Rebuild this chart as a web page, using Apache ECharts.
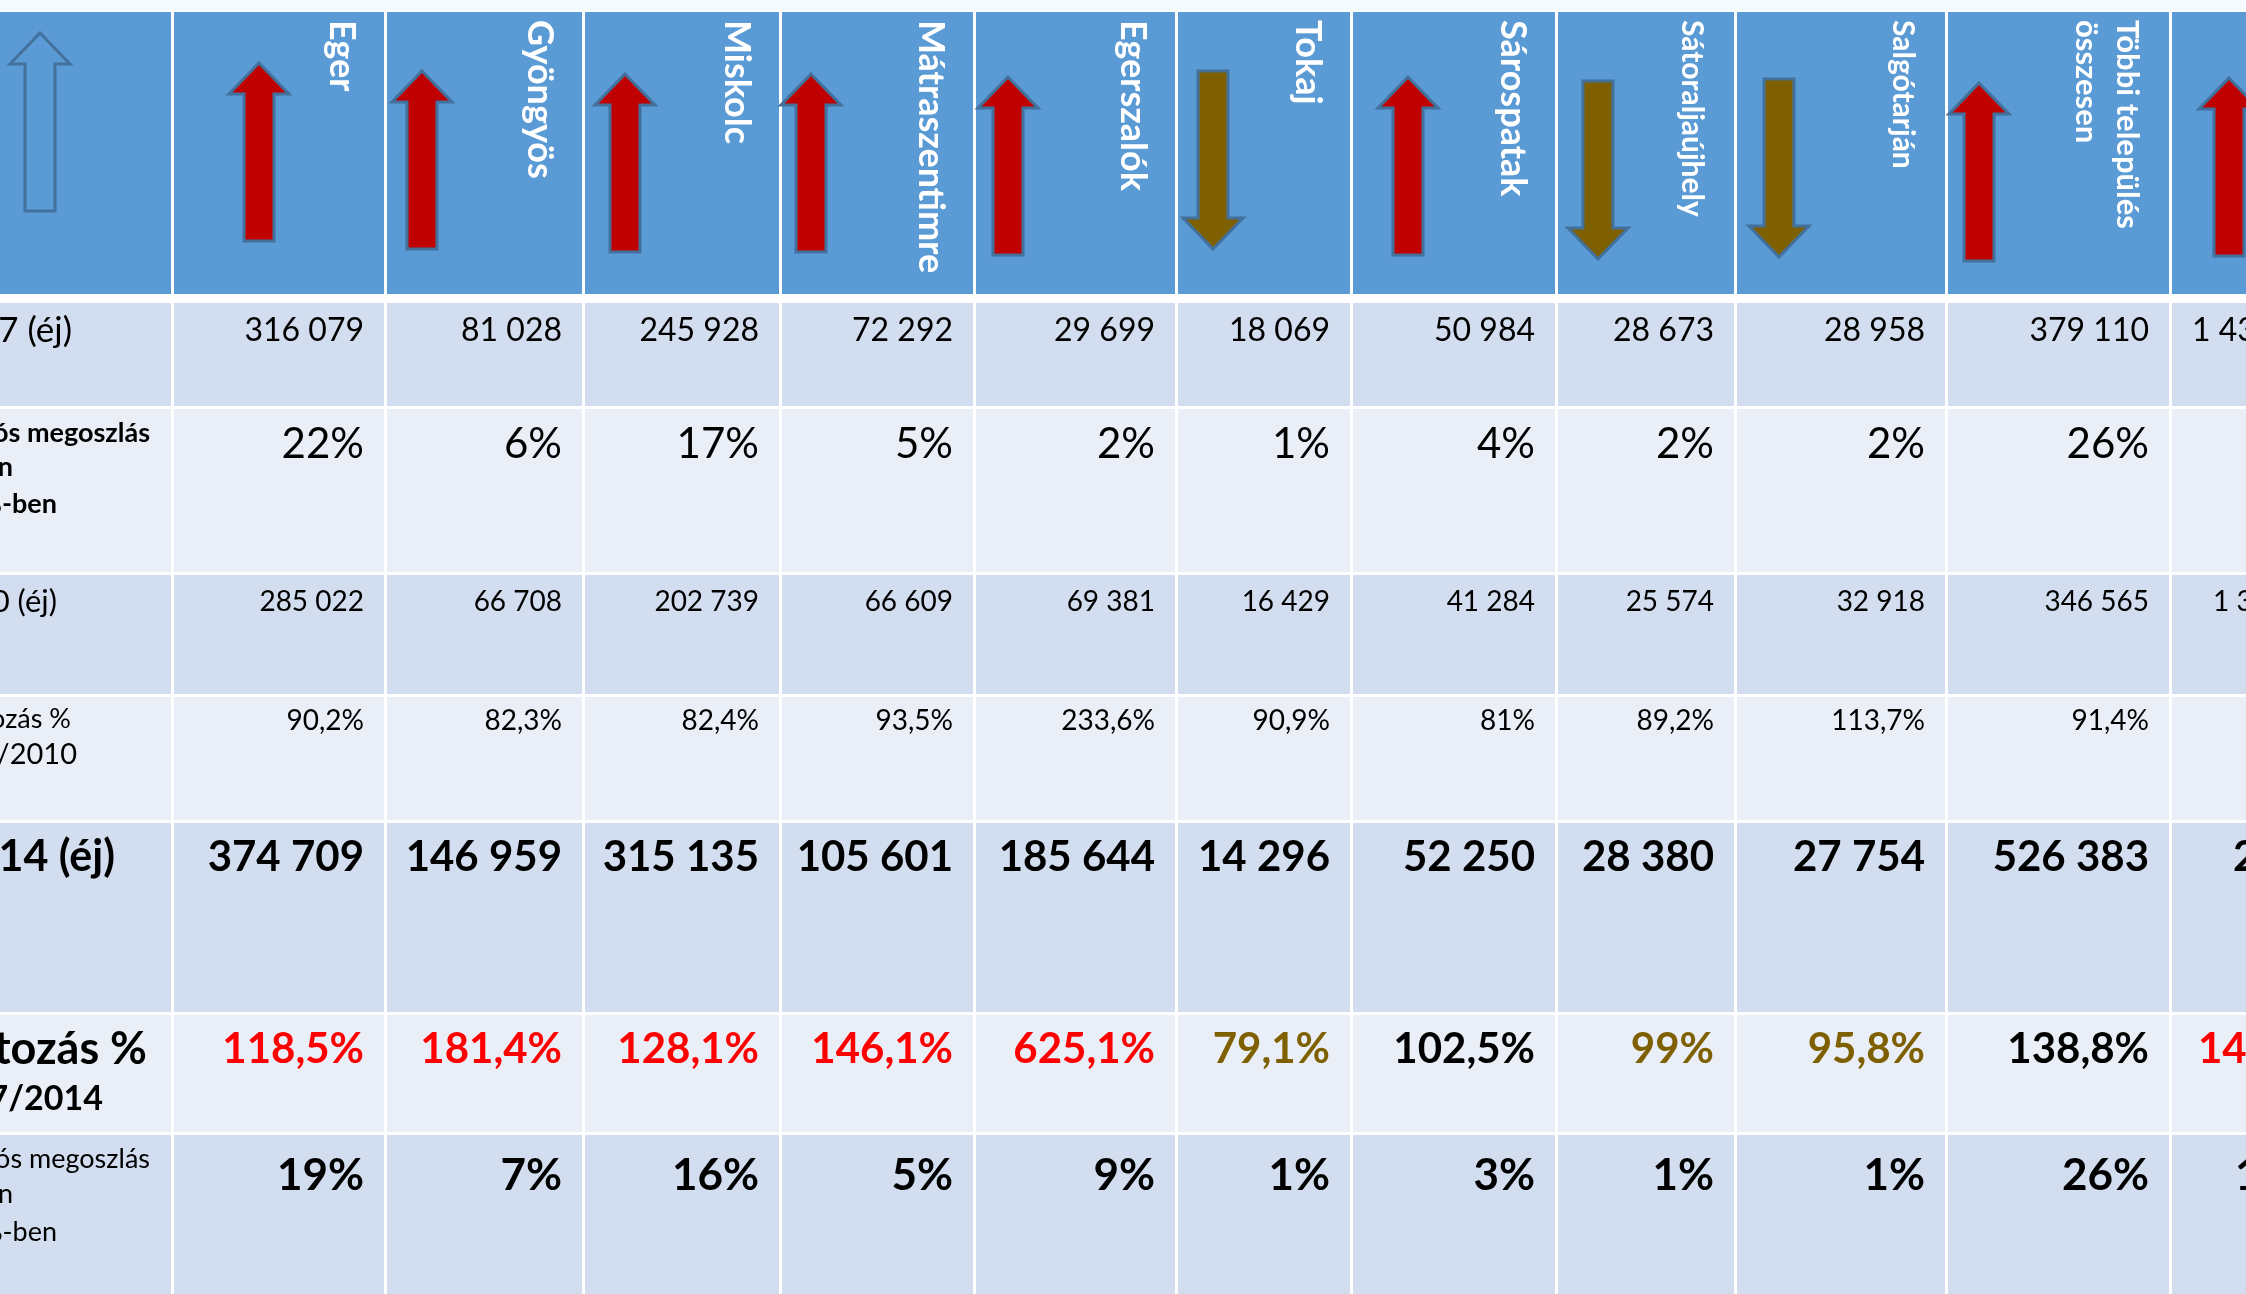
<!DOCTYPE html>
<html lang="hu">
<head>
<meta charset="UTF-8">
<title>Vendégéjszakák</title>
<script src="https://cdn.jsdelivr.net/npm/echarts@6/dist/echarts.min.js"></script>
<style>
  html, body { margin: 0; padding: 0; background: #fff; overflow: hidden; }
  #chart { width: 2246px; height: 1294px; }
</style>
</head>
<body>
<div id="chart"></div>
<script>
// adatok - az utolsó oszlop (régió) csak részben látszik
const places = ['Eger', 'Gyöngyös', 'Miskolc', 'Mátraszentimre', 'Egerszalók', 'Tokaj',
    'Sárospatak', 'Sátoraljaújhely', 'Salgótarján', 'Többi település\nösszesen', 'Régió összesen'];
const nights2007 = [316079, 81028, 245928, 72292, 29699, 18069, 50984, 28673, 28958, 379110, 1437000];
const share2007 = [22, 6, 17, 5, 2, 1, 4, 2, 2, 26, 100];
const nights2010 = [285022, 66708, 202739, 66609, 69381, 16429, 41284, 25574, 32918, 346565, 1340000];
const change0710 = [90.2, 82.3, 82.4, 93.5, 233.6, 90.9, 81, 89.2, 113.7, 91.4, 93.2];
const nights2014 = [374709, 146959, 315135, 105601, 185644, 14296, 52250, 28380, 27754, 526383, 2012000];
const change0714 = [118.5, 181.4, 128.1, 146.1, 625.1, 79.1, 102.5, 99, 95.8, 138.8, 140];
const share2014 = [19, 7, 16, 5, 9, 1, 3, 1, 1, 26, 100];

const rowLabels = [
    ['Vendégéjszaka 2007 (éj)'],
    ['Régiós megoszlás', 'a régióban', '%-ben'],
    ['Vendégéjszaka 2010 (éj)'],
    ['Változás %', '2007/2010'],
    ['Vendégéjszaka 2014 (éj)'],
    ['Változás %', '2007/2014'],
    ['Régiós megoszlás', 'a régióban', '%-ben']
];

// elrendezés (px)
const colLeft  = [-10, 174, 387, 585, 782, 976, 1178, 1353, 1558, 1737, 1948, 2172];
const colRight = [171, 384, 582, 779, 973, 1175, 1350, 1555, 1734, 1945, 2169, 2420];
const rowTop    = [12, 303, 409, 575, 697, 823, 1015, 1135];
const rowBottom = [294, 406, 572, 694, 820, 1012, 1132, 1300];
const rowFill = ['#5B9BD5', '#D2DEEF', '#EAEFF7', '#D2DEEF', '#EAEFF7', '#D2DEEF', '#EAEFF7', '#D2DEEF'];

const valueMid = [331, 444, 602, 721, 857, 1049, 1176];
const valueFont = [[32, 'normal'], [42, 'normal'], [28, 'normal'], [28, 'normal'], [42, 'bold'], [42, 'bold'], [44, 'bold']];
const lastColOffset = [20, 90, 41, 90, 61, 26, 63];
// sorcímkék sorai: [jobb szél, közép y, méret, vastagság]
const labelLayout = [
    [[72, 331, 35, 'normal']],
    [[150, 433, 27, 'bold'], [13, 467, 27, 'bold'], [57, 504, 27, 'bold']],
    [[57, 602, 31, 'normal']],
    [[71, 719, 27, 'normal'], [77, 755, 29, 'normal']],
    [[115, 857, 43, 'bold']],
    [[147, 1049, 45, 'bold'], [103, 1099, 34, 'bold']],
    [[150, 1159, 27, 'normal'], [13, 1194, 27, 'normal'], [57, 1232, 27, 'normal']]
];
const headerSize = [36, 36, 36, 36, 36, 36, 36, 30, 30, 31];
// nyilak: [közép x, felső y]
const arrowPos = [[40, 33], [259, 63], [422, 71], [625, 74], [811, 74], [1008, 77], [1213, 71],
    [1408, 77], [1598, 81], [1779, 79], [1979, 83], [2229, 78]];
const changeColor = ['red', 'red', 'red', 'red', 'red', 'brown', 'black', 'brown', 'brown', 'black', 'red'];
const colorMap = { red: '#FF0000', brown: '#7F6000', black: '#000000' };
const FONT = 'Lato, "Noto Sans", sans-serif';

function fmtNum(n) { return String(n).replace(/\B(?=(\d{3})+(?!\d))/g, ' '); }
function fmtPct(v) { return (Number.isInteger(v) ? String(v) : v.toFixed(1).replace('.', ',')) + '%'; }

// cellák
const cells = [];
for (let r = 0; r < rowTop.length; r++) {
    for (let c = 0; c < colLeft.length; c++) cells.push([c, r]);
}

// szövegek
const rows = [
    nights2007.map(fmtNum), share2007.map(fmtPct), nights2010.map(fmtNum),
    change0710.map(fmtPct), nights2014.map(fmtNum), change0714.map(fmtPct), share2014.map(fmtPct)
];
const texts = [];
rows.forEach((vals, r) => {
    vals.forEach((v, i) => {
        const c = i + 1;
        const last = c === colLeft.length - 1;
        texts.push({
            x: last ? colLeft[c] + lastColOffset[r] : colRight[c] - 20,
            y: valueMid[r], text: v, align: last ? 'left' : 'right',
            size: valueFont[r][0], weight: valueFont[r][1],
            color: r === 5 ? colorMap[changeColor[i]] : '#000'
        });
    });
    rowLabels[r].forEach((line, k) => {
        const l = labelLayout[r][k];
        texts.push({ x: l[0], y: l[1], text: line, align: 'right', size: l[2], weight: l[3], color: '#000' });
    });
});
places.slice(0, 10).forEach((name, i) => {
    texts.push({
        x: colRight[i + 1] - 22, y: 20, text: name, align: 'left', vAlign: 'top',
        size: headerSize[i], weight: 'bold', color: '#FFFFFF', rotate: -Math.PI / 2, lineHeight: 41
    });
});

// nyilak
const arrows = arrowPos.map((p, c) => {
    if (c === 0) return { cx: p[0], top: p[1], dir: 'up', fill: 'none' };
    const up = change0714[c - 1] >= 100;
    return { cx: p[0], top: p[1], dir: up ? 'up' : 'down', fill: up ? '#C00000' : '#7F6000' };
});
const AL = 178, HW = 30, SW = 15, HH = 31;

const chart = echarts.init(document.getElementById('chart'));
chart.setOption({
    backgroundColor: '#FFFFFF',
    animation: false,
    grid: { left: 0, right: 0, top: 0, bottom: 0 },
    xAxis: { type: 'value', min: 0, max: 2246, show: false },
    yAxis: { type: 'value', min: 0, max: 1294, inverse: true, show: false },
    graphic: [{ type: 'rect', shape: { x: 0, y: 0, width: 2246, height: 11 }, style: { fill: '#F5FAFE' }, z: -1 }],
    series: [
        {
            type: 'custom', silent: true, z: 1,
            data: cells,
            renderItem: function (params, api) {
                const c = api.value(0), r = api.value(1);
                const p0 = api.coord([colLeft[c], rowTop[r]]);
                const p1 = api.coord([colRight[c], rowBottom[r]]);
                return { type: 'rect', shape: { x: p0[0], y: p0[1], width: p1[0] - p0[0], height: p1[1] - p0[1] },
                    style: { fill: rowFill[r] } };
            }
        },
        {
            type: 'custom', silent: true, z: 2,
            data: arrows.map(a => [a.cx, a.top]),
            renderItem: function (params, api) {
                const a = arrows[params.dataIndex];
                const cx = api.value(0), t = api.value(1);
                let pts;
                if (a.dir === 'up') {
                    pts = [[cx, t], [cx + HW, t + HH], [cx + SW, t + HH], [cx + SW, t + AL],
                        [cx - SW, t + AL], [cx - SW, t + HH], [cx - HW, t + HH]];
                } else {
                    const b = t + AL;
                    pts = [[cx, b], [cx + HW, b - HH], [cx + SW, b - HH], [cx + SW, t],
                        [cx - SW, t], [cx - SW, b - HH], [cx - HW, b - HH]];
                }
                return { type: 'polygon', shape: { points: pts.map(p => api.coord(p)) },
                    style: { fill: a.fill, stroke: '#41719C', lineWidth: 3 } };
            }
        },
        {
            type: 'custom', silent: true, z: 3,
            data: texts.map(t => [t.x, t.y]),
            renderItem: function (params, api) {
                const t = texts[params.dataIndex];
                const p = api.coord([api.value(0), api.value(1)]);
                return {
                    type: 'text', x: p[0], y: p[1], rotation: t.rotate || 0,
                    style: {
                        text: t.text, fill: t.color,
                        font: t.weight + ' ' + t.size + 'px ' + FONT,
                        align: t.align, verticalAlign: t.vAlign || 'middle',
                        lineHeight: t.lineHeight
                    }
                };
            }
        }
    ]
});
</script>
</body>
</html>
